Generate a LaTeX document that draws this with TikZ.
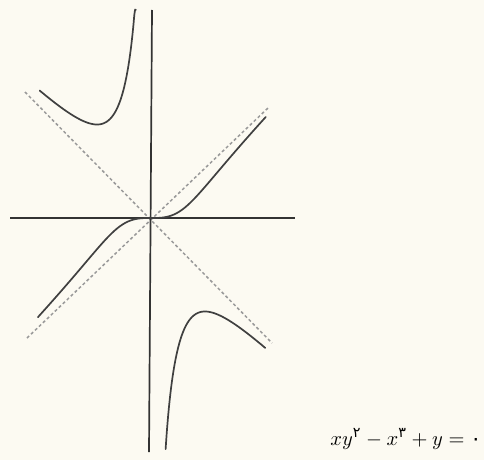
\documentclass[tikz,border=0pt]{standalone}
\usepackage{fontspec}
\newfontfamily\pfont{DejaVu Sans}
\definecolor{paper}{RGB}{252,250,242}
\begin{document}
\begin{tikzpicture}[x=1pt,y=-1pt,
  axis/.style={line width=1.7pt, draw=black!80},
  curve/.style={line width=1.7pt, draw=black!75, line cap=round},
  asym/.style={line width=1.5pt, draw=black!40, dash pattern=on 3pt off 2.5pt},
  declare function={ff(\t)=(1+sqrt(1+4*\t*\t*\t*\t))/(2*\t);}]
\fill[paper] (0,0) rectangle (484,460);
\useasboundingbox (0,0) rectangle (484,460);
% asymptotes
\coordinate (a1) at (25,92);  \coordinate (a2) at (272,343);
\coordinate (b1) at (27,338); \coordinate (b2) at (268,108);
\draw[asym] (a1) -- (a2);
\draw[asym] (b1) -- (b2);
% axes
\coordinate (xl) at (10,218); \coordinate (xr) at (295,218);
\coordinate (yt) at (152,10); \coordinate (yb) at (149,452);
\draw[axis] (xl) -- (xr);
\draw[axis] (yt) -- (yb);
% middle branch through origin
\draw[curve] plot[domain=-1.95:1.98, samples=120, smooth]
  ({151+58*\x}, {218-58*(2*\x*\x*\x/(1+sqrt(1+4*\x*\x*\x*\x)))});
% upper-left branch
\draw[curve] plot[domain=0.26:1.92, samples=120, smooth]
  ({151-58*\x}, {218-58*min(ff(\x),3.59)});
% lower-right branch
\draw[curve] plot[domain=0.252:1.97, samples=120, smooth]
  ({151+58*\x}, {218+58*ff(\x)});
% equation
\node[anchor=base west, inner sep=0pt, scale=2.05] (eq) at (330,445)
  {$xy^{\mbox{\pfont\scriptsize ۲}}-x^{\mbox{\pfont\scriptsize ۳}}+y=\mbox{\pfont ۰}$};
\end{tikzpicture}
\end{document}
